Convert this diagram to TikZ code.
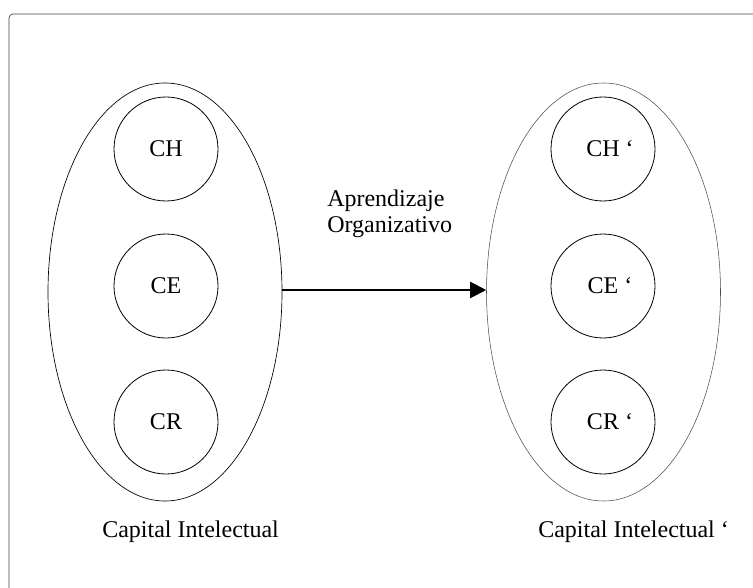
\documentclass[tikz,border=0pt]{standalone}
\usepackage{fontspec}
\setmainfont{Liberation Serif}
\usetikzlibrary{shapes.geometric,arrows.meta}

\tikzset{
  comp/.style={circle, draw, line width=0.6pt, minimum size=78pt, inner sep=0pt,
    font=\fontsize{18}{19.5}\selectfont},
  grupo/.style={ellipse, draw, inner sep=0pt, minimum width=175.5pt, minimum height=313.5pt},
  rotulo/.style={inner sep=0pt, anchor=base west, font=\fontsize{18}{19.5}\selectfont}
}

\begin{document}
\begin{tikzpicture}[x=0.75pt,y=0.75pt,yscale=-1,xscale=1]
    \useasboundingbox (0,0) rectangle (753,588);
    \clip (0,0) rectangle (753,588);
    % marco
    \draw [rounded corners=3pt, color=black!75, line width=0.5pt] (9,14) rectangle (775,610);

    % capital intelectual
    \node [grupo, line width=0.5pt] (ci) at (165,292) {};
    \node [comp] (ch) at (166,149) {CH};
    \node [comp] (ce) at (166,286) {CE};
    \node [comp] (cr) at (166,422) {CR};

    % capital intelectual '
    \node [grupo, line width=0.4pt, color=black!70] (cip) at (603.5,292) {};
    \node [comp] (chp) at (603,149) {CH\rlap{ ‘}};
    \node [comp] (cep) at (603,286) {CE\rlap{ ‘}};
    \node [comp] (crp) at (603,422) {CR\rlap{ ‘}};

    \draw [line width=1.5pt, -{Triangle[length=12pt,width=12pt]}] (ci.east |- 0,290) -- (cip.west |- 0,290);

    \node [rotulo, align=left] (ao) at (327,232) {Aprendizaje\\Organizativo};
    \node [rotulo] (lci) at (102,537) {Capital Intelectual};
    \node [rotulo] (lcip) at (538,537) {Capital Intelectual ‘};
\end{tikzpicture}
\end{document}
